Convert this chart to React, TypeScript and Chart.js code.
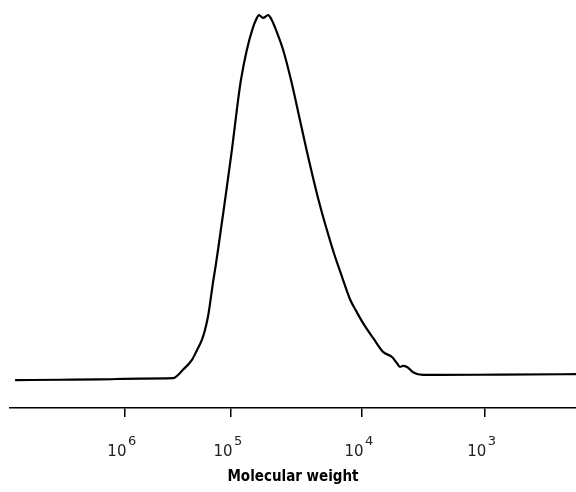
import React, { useEffect, useRef } from "react";
import { Chart, registerables } from "chart.js";

Chart.register(...registerables);

// Elution volume (ml) and detector response (%) of the GPC trace
const elutionVolume = [
  10.18, 11.8, 13.2, 14.6, 15.76, 16.11, 16.43, 16.61, 16.78, 16.89, 17.0,
  17.085, 17.17, 17.26, 17.35, 17.6, 17.84, 18.06, 18.16, 18.37, 18.59, 18.69,
  18.8, 18.94, 19.12, 19.25, 19.36, 19.65, 19.93, 20.09, 20.48, 20.9, 21.41,
  21.72, 22.01, 22.23, 22.47, 22.83, 23.18, 23.5, 23.67, 23.78, 23.89, 24.03,
  24.24, 24.59, 25.2, 27.3, 30.0,
];
const response = [
  7.0, 7.1, 7.2, 7.4, 7.5, 9.6, 12.1, 14.6, 17.1, 19.6, 23.1,
  27.1, 31.4, 35.4, 39.7, 52.3, 64.8, 77.4, 82.4, 90.0, 95.7, 97.5,
  98.7, 98.0, 98.7, 97.5, 95.7, 90.0, 82.4, 77.4, 64.8, 52.3, 39.7,
  33.2, 27.4, 24.4, 21.4, 17.6, 14.1, 12.8, 11.3, 10.3, 10.6, 10.3,
  9.0, 8.3, 8.3, 8.4, 8.5,
];

// Calibration: elution volumes of the molecular-weight marks (10^n)
const calibrationVolume = [14.06, 17.81, 22.44, 26.78];
const calibrationBase = "10";
const calibrationExponent = ["6", "5", "4", "3"];

const TICK_FONT = "DejaVu Sans";

// Draws the power of ten as a raised exponent next to each "10" tick label
const exponentPlugin = {
  id: "exponents",
  afterDraw(chart: any) {
    const xs = chart.scales.x;
    const ctx = chart.ctx;
    const tickOpts = xs.options.ticks;
    const labelMiddle = xs.top + xs.options.grid.tickLength + tickOpts.padding + 9;
    ctx.save();
    ctx.fillStyle = "#222";
    ctx.font = `13px "${TICK_FONT}"`;
    ctx.textAlign = "left";
    ctx.textBaseline = "middle";
    calibrationVolume.forEach((v, i) => {
      const px = xs.getPixelForValue(v);
      ctx.fillText(calibrationExponent[i], px + 3, labelMiddle - 10);
    });
    ctx.restore();
  },
};

export default function App() {
  const canvasRef = useRef<HTMLCanvasElement>(null);

  useEffect(() => {
    const canvas = canvasRef.current;
    if (!canvas) return;
    const chart = new Chart(canvas, {
      type: "line",
      data: {
        datasets: [
          {
            data: elutionVolume.map((v, i) => ({ x: v, y: response[i] })),
            borderColor: "#000",
            borderWidth: 2.2,
            pointRadius: 0,
            cubicInterpolationMode: "monotone",
            fill: false,
          },
        ],
      },
      options: {
        animation: false,
        responsive: false,
        layout: { padding: { top: 10, left: 10, right: 0, bottom: 6 } },
        plugins: { legend: { display: false }, tooltip: { enabled: false } },
        scales: {
          x: {
            type: "linear",
            min: 10,
            max: 30,
            afterBuildTicks: (axis: any) => {
              axis.ticks = calibrationVolume.map((v) => ({ value: v }));
            },
            ticks: {
              autoSkip: false,
              maxRotation: 0,
              padding: 26,
              labelOffset: -8,
              color: "#222",
              font: { family: TICK_FONT, size: 15 },
              callback: () => calibrationBase,
            },
            grid: {
              drawOnChartArea: false,
              drawTicks: true,
              tickLength: 9,
              color: "#000",
              lineWidth: 1.5,
            },
            border: { display: true, color: "#000", width: 1.5 },
            title: {
              display: true,
              text: "Molecular weight",
              color: "#000",
              font: { family: "DejaVu Sans Condensed", size: 15, weight: "bold" },
              padding: { top: -19, bottom: 0 },
            },
          },
          y: {
            display: false,
            min: 0,
            max: 100,
          },
        },
      },
      plugins: [exponentPlugin],
    });
    return () => chart.destroy();
  }, []);

  return (
    <div style={{ position: "absolute", left: 0, top: 0, width: 576, height: 492, background: "#fff" }}>
      <canvas ref={canvasRef} width={576} height={492} />
    </div>
  );
}
